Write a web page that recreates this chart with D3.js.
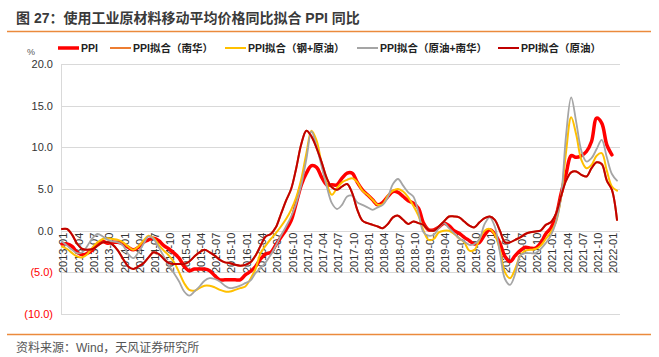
<!DOCTYPE html>
<html><head><meta charset="utf-8">
<script src="https://cdn.jsdelivr.net/npm/d3@7"></script>
<style>
body{margin:0;background:#fff;}
svg{display:block;}
</style></head>
<body>
<svg id="chart" width="659" height="357"></svg>
<script>
// ---------- DATA ----------
const months = [
"2013-01","2013-02","2013-03","2013-04","2013-05","2013-06","2013-07","2013-08","2013-09","2013-10","2013-11","2013-12",
"2014-01","2014-02","2014-03","2014-04","2014-05","2014-06","2014-07","2014-08","2014-09","2014-10","2014-11","2014-12",
"2015-01","2015-02","2015-03","2015-04","2015-05","2015-06","2015-07","2015-08","2015-09","2015-10","2015-11","2015-12",
"2016-01","2016-02","2016-03","2016-04","2016-05","2016-06","2016-07","2016-08","2016-09","2016-10","2016-11","2016-12",
"2017-01","2017-02","2017-03","2017-04","2017-05","2017-06","2017-07","2017-08","2017-09","2017-10","2017-11","2017-12",
"2018-01","2018-02","2018-03","2018-04","2018-05","2018-06","2018-07","2018-08","2018-09","2018-10","2018-11","2018-12",
"2019-01","2019-02","2019-03","2019-04","2019-05","2019-06","2019-07","2019-08","2019-09","2019-10","2019-11","2019-12",
"2020-01","2020-02","2020-03","2020-04","2020-05","2020-06","2020-07","2020-08","2020-09","2020-10","2020-11","2020-12",
"2021-01","2021-02","2021-03","2021-04","2021-05","2021-06","2021-07","2021-08","2021-09","2021-10","2021-11","2021-12",
"2022-01","2022-02"];

const xTickLabels = ["2013-01","2013-04","2013-07","2013-10","2014-01","2014-04","2014-07","2014-10",
"2015-01","2015-04","2015-07","2015-10","2016-01","2016-04","2016-07","2016-10",
"2017-01","2017-04","2017-07","2017-10","2018-01","2018-04","2018-07","2018-10",
"2019-01","2019-04","2019-07","2019-10","2020-01","2020-04","2020-07","2020-10",
"2021-01","2021-04","2021-07","2021-10","2022-01"];

const yTicks = [-10, -5, 0, 5, 10, 15, 20];
const yTickLabels = ["(10.0)","(5.0)","0.0","5.0","10.0","15.0","20.0"];

const seriesNames = ["PPI","PPI拟合（南华）","PPI拟合（钢+原油）","PPI拟合（原油+南华）","PPI拟合（原油）"];

// PPI (2013-01 .. 2022-01)
const ppi = [
-1.6,-1.6,-1.9,-2.6,-2.9,-2.7,-2.3,-1.6,-1.3,-1.5,-1.4,-1.4,
-1.6,-2.0,-2.3,-2.0,-1.4,-1.1,-0.9,-1.2,-1.8,-2.2,-2.7,-3.3,
-4.3,-4.8,-4.6,-4.6,-4.6,-4.8,-5.4,-5.9,-5.9,-5.9,-5.9,-5.9,
-5.3,-4.9,-4.3,-3.4,-2.8,-2.6,-1.7,-0.8,0.1,1.2,3.3,5.5,
6.9,7.8,7.6,6.4,5.5,5.5,5.5,6.3,6.9,6.9,5.8,4.9,
4.3,3.7,3.1,3.4,4.1,4.7,4.6,4.1,3.6,3.3,2.7,0.9,
0.1,0.1,0.4,0.9,0.6,0.0,-0.3,-0.8,-1.2,-1.6,-1.4,-0.5,
0.1,-0.4,-1.5,-3.1,-3.7,-3.0,-2.4,-2.0,-2.1,-2.1,-1.5,-0.4,
0.3,1.7,4.4,6.8,9.0,8.8,9.0,9.5,10.7,13.5,12.9,10.3,
9.1];

// PPI拟合（南华） - hidden beneath the crude-oil fit in the picture
const fitNanhua = [
0.2,0.2,-0.5,-1.6,-2.2,-2.3,-2.2,-1.8,-1.4,-1.4,-1.7,-2.4,
-3.4,-4.3,-4.6,-4.3,-3.9,-3.2,-2.6,-2.8,-3.4,-3.9,-4.0,-4.0,
-4.0,-3.7,-3.1,-2.6,-2.3,-2.6,-3.0,-3.5,-3.8,-3.9,-4.1,-4.2,
-4.1,-3.8,-3.0,-1.8,-0.7,-0.4,0.4,2.0,3.6,5.0,7.5,10.4,
12.0,11.3,9.9,8.2,6.3,5.2,4.9,5.3,5.6,4.5,2.5,1.2,
0.9,0.7,0.5,0.3,0.8,1.6,1.8,1.3,0.8,1.1,0.9,0.7,
0.1,0.0,0.5,1.1,1.7,1.7,1.6,1.1,0.6,0.4,1.0,1.5,
1.7,1.3,0.0,-1.4,-1.4,-1.1,-0.8,-0.4,-0.2,-0.1,0.0,0.7,
1.0,2.0,4.1,6.0,7.0,7.1,6.7,6.5,7.5,8.2,8.0,6.0,
4.9,1.3];

// PPI拟合（钢+原油）
const fitSteelOil = [
-1.9,-2.2,-2.7,-3.1,-3.2,-2.8,-2.0,-1.4,-1.0,-0.9,-1.0,-1.1,
-1.4,-1.9,-2.3,-1.9,-1.2,-0.6,-0.9,-1.7,-2.4,-3.0,-3.8,-5.0,
-6.3,-7.1,-7.2,-6.9,-6.6,-6.6,-6.8,-7.1,-7.3,-7.3,-7.1,-6.9,
-6.7,-5.8,-4.6,-2.7,-1.8,-1.0,-0.3,0.5,1.4,2.5,4.0,6.2,
9.3,12.0,10.8,8.0,5.6,4.3,5.1,5.8,6.1,6.3,5.8,4.8,
4.3,3.7,3.1,3.2,4.2,4.8,5.0,4.7,4.0,3.0,1.8,0.0,
-1.1,-1.0,-0.2,0.0,0.0,-0.4,-0.9,-1.4,-2.4,-2.3,-1.0,0.0,
0.2,-0.5,-2.3,-5.0,-5.7,-4.6,-3.0,-2.4,-2.3,-2.2,-1.8,-1.0,
-0.2,1.0,4.0,9.5,13.6,11.5,8.5,7.5,7.9,9.0,9.3,7.2,
5.3,4.8];

// PPI拟合（原油+南华）
const fitOilNanhua = [
-1.3,-1.8,-2.3,-2.7,-2.6,-1.8,-0.9,-0.4,-0.7,-1.1,-1.3,-1.4,
-1.8,-2.8,-3.3,-2.6,-1.6,-0.7,-1.0,-2.0,-3.1,-4.2,-5.1,-6.1,
-7.3,-7.8,-7.3,-6.7,-6.0,-5.7,-5.8,-6.1,-6.6,-6.9,-6.8,-6.6,
-6.3,-6.0,-5.1,-4.5,-3.8,-2.9,-1.8,-0.6,0.5,1.7,3.3,5.5,
8.6,11.9,10.1,7.7,5.3,3.3,2.6,3.1,4.1,4.2,3.4,3.1,
2.8,2.5,2.8,3.1,4.0,5.6,6.2,5.4,4.6,4.1,2.2,-0.2,
-0.6,-0.5,0.3,0.9,0.3,-0.3,-0.9,-1.3,-1.7,-1.6,-1.0,0.8,
1.6,0.5,-2.6,-5.8,-6.5,-5.2,-3.0,-2.7,-2.7,-2.7,-2.2,-1.5,
-0.6,1.0,4.0,11.5,16.0,13.0,9.6,8.3,8.7,9.8,10.9,8.8,
6.8,6.0];

// PPI拟合（原油）
const fitOil = [
0.2,0.2,-0.5,-1.6,-2.2,-2.3,-2.2,-1.8,-1.4,-1.4,-1.7,-2.4,
-3.4,-4.3,-4.6,-4.3,-3.9,-3.2,-2.6,-2.8,-3.4,-3.9,-4.0,-4.0,
-4.0,-3.7,-3.1,-2.6,-2.3,-2.6,-3.0,-3.5,-3.8,-3.9,-4.1,-4.2,
-4.1,-3.8,-3.0,-1.8,-0.7,-0.4,0.4,2.0,3.6,5.0,7.5,10.4,
12.0,11.3,9.9,8.2,6.3,5.2,4.9,5.3,5.6,4.5,2.5,1.2,
0.9,0.7,0.5,0.3,0.8,1.6,1.8,1.3,0.8,1.1,0.9,0.7,
0.1,0.0,0.5,1.1,1.7,1.7,1.6,1.1,0.6,0.4,1.0,1.5,
1.7,1.3,0.0,-1.4,-1.4,-1.1,-0.8,-0.4,-0.2,-0.1,0.0,0.7,
1.0,2.0,4.1,6.0,7.0,7.1,6.7,6.5,7.5,8.2,8.0,6.0,
4.9,1.3];

const seriesColors = ["#FF0000","#ED7D31","#FFC000","#A5A5A5","#C00000"];
const seriesWidths = [3.5, 2, 2, 1.8, 2];
const seriesData = [ppi, fitNanhua, fitSteelOil, fitOilNanhua, fitOil];

// ---------- DRAW ----------
const svg = d3.select("#chart");
const FONT = "'Liberation Sans', Arial, 'Noto Sans CJK SC', sans-serif";

// title
svg.append("text").attr("x", 16).attr("y", 23)
  .attr("font-family", FONT).attr("font-size", 14).attr("font-weight", "bold")
  .attr("fill", "#3a3a3a")
  .text("图 27：使用工业原材料移动平均价格同比拟合 PPI 同比");
svg.append("line").attr("x1", 7).attr("x2", 651).attr("y1", 31.5).attr("y2", 31.5)
  .attr("stroke", "#EB8A3C").attr("stroke-width", 1.5);
svg.append("line").attr("x1", 7).attr("x2", 651).attr("y1", 334.5).attr("y2", 334.5)
  .attr("stroke", "#EB8A3C").attr("stroke-width", 1.5);
svg.append("text").attr("x", 16).attr("y", 352)
  .attr("font-family", FONT).attr("font-size", 12).attr("fill", "#555")
  .text("资料来源：Wind，天风证券研究所");

// scales
const x = d3.scalePoint().domain(months).range([62, 617]);
const y = d3.scaleLinear().domain([-10, 20]).range([314, 64]);
const plotLeft = 61, plotRight = 620;

// gridlines
svg.append("g").selectAll("line").data(yTicks).join("line")
  .attr("x1", plotLeft).attr("x2", plotRight)
  .attr("y1", d => Math.round(y(d)) + 0.5).attr("y2", d => Math.round(y(d)) + 0.5)
  .attr("stroke", "#D9D9D9").attr("stroke-width", 1);
svg.append("line").attr("x1", plotLeft + 0.5).attr("x2", plotLeft + 0.5)
  .attr("y1", y(20)).attr("y2", y(-10)).attr("stroke", "#D9D9D9");

// y axis
const yAxis = d3.axisLeft(y).tickValues(yTicks)
  .tickFormat((d, i) => yTickLabels[yTicks.indexOf(d)]).tickSize(0).tickPadding(0);
const yg = svg.append("g").attr("transform", "translate(53,0)").call(yAxis);
yg.select(".domain").remove();
yg.selectAll("text").attr("font-family", FONT).attr("font-size", 11)
  .attr("fill", d => d < 0 ? "#FF0000" : "#333");

svg.append("text").attr("x", 27).attr("y", 55).attr("font-family", FONT)
  .attr("font-size", 9).attr("fill", "#555").text("%");

// x axis labels (rotated, at zero line)
const xAxis = d3.axisBottom(x).tickValues(xTickLabels).tickSize(0).tickPadding(0);
const xg = svg.append("g").attr("transform", `translate(0,${y(0) + 2})`).call(xAxis);
xg.select(".domain").remove();
xg.selectAll("text")
  .attr("font-family", FONT).attr("font-size", 11).attr("fill", "#333")
  .attr("text-anchor", "end")
  .attr("transform", "rotate(-90)")
  .attr("x", 0).attr("y", 0).attr("dx", 0).attr("dy", "0.45em");

// lines
const line = d3.line()
  .x((d, i) => x(months[i]))
  .y(d => y(d))
  .curve(d3.curveCatmullRom.alpha(0.5));

svg.append("g").selectAll("path").data(seriesData).join("path")
  .attr("d", d => line(d))
  .attr("fill", "none")
  .attr("stroke", (d, i) => seriesColors[i])
  .attr("stroke-width", (d, i) => seriesWidths[i])
  .attr("stroke-linejoin", "round").attr("stroke-linecap", "round");

// legend
const legendX = [58, 110, 225, 357, 498];
const lg = svg.append("g");
seriesNames.forEach((name, i) => {
  lg.append("line").attr("x1", legendX[i]).attr("x2", legendX[i] + 21)
    .attr("y1", 48).attr("y2", 48)
    .attr("stroke", seriesColors[i]).attr("stroke-width", i === 0 ? 3.5 : 2);
  lg.append("text").attr("x", legendX[i] + 23).attr("y", 52)
    .attr("font-family", FONT).attr("font-size", 10.5).attr("font-weight", "bold")
    .attr("fill", "#222").text(name);
});
</script>
</body></html>
